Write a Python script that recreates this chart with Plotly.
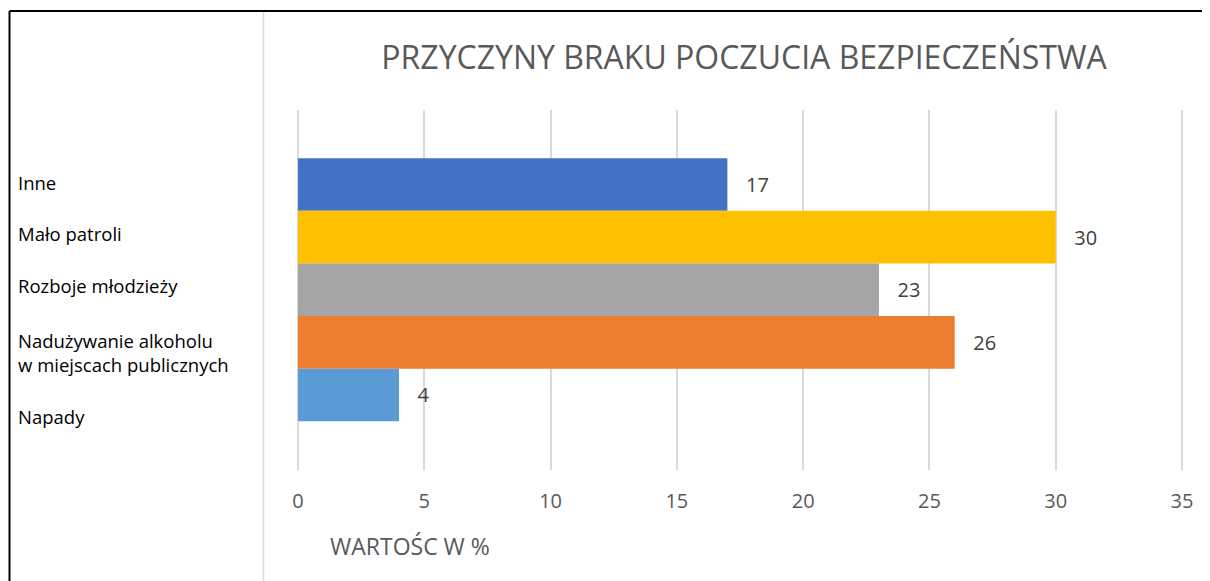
import plotly.graph_objects as go

# ---- data ----
categories = ["Inne", "Mało patroli", "Rozboje młodzieży",
              "Nadużywanie alkoholu<br>w miejscach publicznych", "Napady"]
values = [17, 30, 23, 26, 4]
colors = ["#4472C4", "#FFC000", "#A5A5A5", "#ED7D31", "#5B9BD5"]
x_ticks = [0, 5, 10, 15, 20, 25, 30, 35]
title_text = "PRZYCZYNY BRAKU POCZUCIA BEZPIECZEŃSTWA"
x_title = "WARTOŚC W %"

OFF = 8  # page body margin
W, H = 1210 - OFF, 581 - OFF
L, R, T, B = 282, 20, 102, 111
UNIT = 25.257  # px per value unit

def px(xr):
    return (xr - OFF - L) / (W - L - R)

def py(yr):
    return 1 - (yr - OFF - T) / (H - T - B)

# bar positions (top to bottom)
ypos = [4, 3, 2, 1, 0]

fig = go.Figure()
fig.add_trace(go.Bar(
    x=values, y=ypos, orientation="h", width=1.0,
    marker=dict(color=colors, line=dict(width=0)),
    text=values, texttemplate="   %{text}", textposition="outside",
    textfont=dict(family="Open Sans", size=20, color="#404040"),
    cliponaxis=False, showlegend=False,
))

annotations = []
label_y = [182, 233, 285, 352, 416]
for lab, yr in zip(categories, label_y):
    annotations.append(dict(
        text=lab, xref="paper", yref="paper", x=px(16), y=py(yr),
        xanchor="left", yanchor="middle", align="left", showarrow=False,
        font=dict(family="Open Sans", size=18.5, color="#000000")))
annotations.append(dict(
    text=x_title, xref="paper", yref="paper", x=px(328), y=py(546),
    xanchor="left", yanchor="middle", showarrow=False,
    font=dict(family="Open Sans", size=23, color="#595959")))

shapes = [
    dict(type="line", xref="paper", yref="paper", x0=px(9.5), x1=px(1230),
         y0=py(11), y1=py(11), line=dict(color="#000000", width=2)),
    dict(type="line", xref="paper", yref="paper", x0=px(9.5), x1=px(9.5),
         y0=py(11), y1=py(600), line=dict(color="#000000", width=2)),
    dict(type="line", xref="paper", yref="paper", x0=px(263.5), x1=px(263.5),
         y0=py(12), y1=py(600), line=dict(color="#D9D9D9", width=1.5)),
]

x0_px = 298 - OFF  # position of value 0
fig.update_layout(
    width=W, height=H,
    margin=dict(l=L, r=R, t=T, b=B),
    paper_bgcolor="white", plot_bgcolor="white",
    title=dict(text=title_text, x=(744 - OFF) / W, xref="container", xanchor="center",
               y=1 - (58 - OFF) / H, yref="container", yanchor="middle",
               font=dict(family="Open Sans", size=32, color="#595959")),
    xaxis=dict(range=[(L - x0_px) / UNIT, (W - R - x0_px) / UNIT],
               tickvals=x_ticks, showgrid=True, gridcolor="#D9D9D9", gridwidth=1.5,
               zeroline=True, zerolinecolor="#D9D9D9", zerolinewidth=1.5,
               showline=False, ticks="", ticklabelstandoff=17,
               tickfont=dict(family="Open Sans", size=20, color="#595959")),
    yaxis=dict(range=[-1.426, 5.416], showticklabels=False, showgrid=False,
               zeroline=False, showline=False),
    annotations=annotations, shapes=shapes,
)

fig.write_html("out.html")
